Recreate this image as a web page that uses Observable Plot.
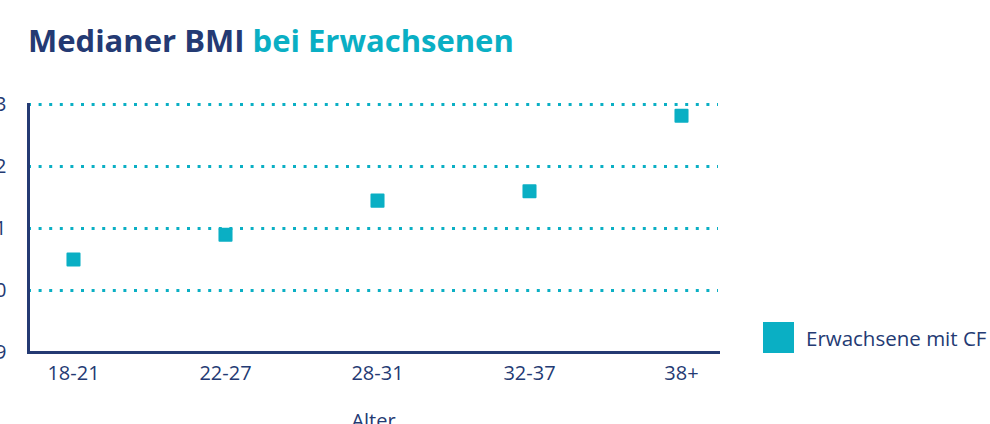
<!DOCTYPE html>
<html>
<head>
<meta charset="utf-8">
<script src="https://cdn.jsdelivr.net/npm/d3@7"></script>
<script src="https://cdn.jsdelivr.net/npm/@observablehq/plot@0.6"></script>
<style>
  html, body { margin: 0; padding: 0; background: #fff; overflow: hidden; }
  body { width: 990px; height: 424px; position: relative; font-family: "Open Sans", sans-serif; }
  #title { position: absolute; left: 28px; top: 19px; font-size: 31px; font-weight: 700; color: #243a73; white-space: nowrap; letter-spacing: 0px; }
  #title .b { color: #0aafc4; }
  #chart { position: absolute; left: 0; top: 80px; }
  #legend { position: absolute; left: 763px; top: 322px; display: flex; align-items: center; font-size: 20.5px; color: #243a73; }
  #legend .sw { width: 31px; height: 31px; background: #0aafc4; margin-right: 12px; }
</style>
</head>
<body>
<div id="title">Medianer BMI <span class="b">bei Erwachsenen</span></div>
<div id="chart"></div>
<div id="legend"><div class="sw"></div><span id="legtext"></span></div>
<script>
const categories = ["18-21", "22-27", "28-31", "32-37", "38+"];
const bmiValues = [20.5, 20.9, 21.45, 21.6, 22.82];
const yTicks = [19, 20, 21, 22, 23];
const gridValues = [20, 21, 22, 23];
const seriesName = "Erwachsene mit CF";
const xLabel = "Alter";

const navy = "#243a73";
const teal = "#0aafc4";

const data = categories.map((c, i) => ({age: c, bmi: bmiValues[i]}));

document.getElementById("legtext").textContent = seriesName;

const plot = Plot.plot({
  width: 990,
  height: 344,
  marginLeft: 28,
  marginRight: 272,
  marginTop: 24,
  marginBottom: 72,
  style: {fontFamily: "Open Sans, sans-serif", fontSize: "20px", color: navy, overflow: "visible", background: "transparent"},
  x: {type: "point", domain: categories, padding: 0.255, align: 0.55},
  y: {domain: [19, 23]},
  marks: [
    Plot.ruleY(gridValues, {stroke: teal, strokeWidth: 3, strokeDasharray: "3,7.6", strokeOpacity: 1}),
    Plot.axisY(yTicks, {tickSize: 0, tickPadding: 22, label: null, fill: navy, fontSize: 20, tickFormat: d => String(d)}),
    Plot.axisX({tickSize: 0, tickPadding: 13, label: xLabel, labelAnchor: "center", labelOffset: 75, fill: navy, fontSize: 20}),
    Plot.frame({anchor: "left", stroke: navy, strokeWidth: 3}),
    Plot.frame({anchor: "bottom", stroke: navy, strokeWidth: 3}),
    Plot.dot(data, {x: "age", y: "bmi", symbol: "square", r: 6.8, fill: teal, stroke: teal, strokeWidth: 2, strokeLinejoin: "round"})
  ]
});
document.getElementById("chart").appendChild(plot);
</script>
</body>
</html>
